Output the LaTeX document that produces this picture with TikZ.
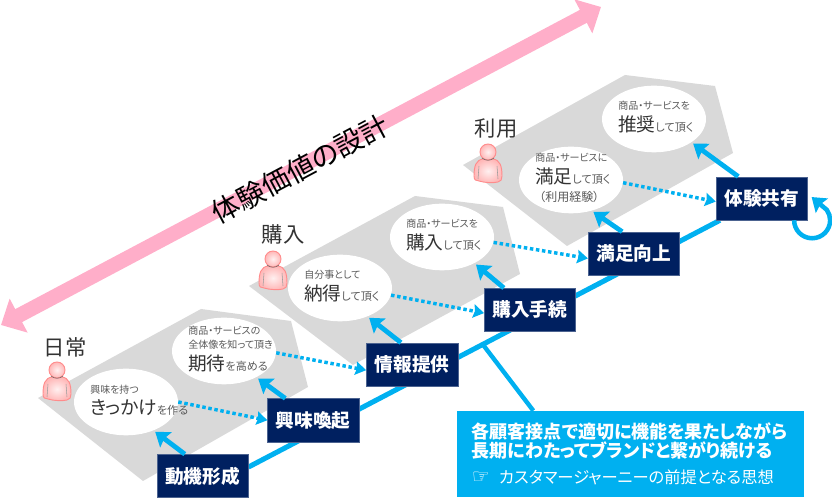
\documentclass[tikz,border=0pt]{standalone}
\usepackage{fontspec}
\usepackage{xcolor}
\setmainfont[RawFeature={+palt}]{Noto Sans CJK JP}
\newfontfamily\symbolfont{DejaVu Sans}
\usetikzlibrary{arrows.meta, positioning, shapes.geometric, backgrounds}
\definecolor{stagenavy}{RGB}{0, 32, 96}
\definecolor{flowblue}{RGB}{0, 176, 240}
\definecolor{zonegray}{RGB}{217, 217, 217}
\definecolor{designpink}{RGB}{255, 174, 201}
\definecolor{inktext}{RGB}{51, 51, 51}
\newcommand{\bigword}[1]{{\fontsize{14}{14}\selectfont\color{inktext}#1}}
\newcommand{\midword}[1]{{\fontsize{8.3}{13}\selectfont #1}}

\begin{document}
\begin{tikzpicture}[
  x=0.75pt, y=0.75pt,
  stagebox/.style={fill=stagenavy, draw=stagenavy!70!white, line width=0.4pt, minimum width=68.5pt,
              minimum height=32.4pt, inner sep=0pt, align=center, text=white,
              font=\fontsize{14}{16}\selectfont\bfseries},
  touch/.style={ellipse, fill=white, minimum width=78pt, minimum height=50pt, inner sep=0pt},
  touchtext/.style={anchor=west, xshift=-27pt, yshift=1.5pt, inner sep=0pt, align=left, text=black!65,
              font=\fontsize{7.5}{10.5}\selectfont},
  phase/.style={text=inktext, font=\fontsize{16}{18}\selectfont},
  zone/.style={fill=zonegray},
  arr/.style={-{Stealth[length=10pt, width=14pt, inset=1.5pt]}, line width=3.6pt, color=flowblue, shorten >=1.5pt},
  dotarr/.style={-{Stealth[length=8pt, width=10pt, inset=1pt]}, line width=2.6pt, color=flowblue,
              dash pattern=on 2.6pt off 2pt},
  person/.pic={
    \path[draw=red!45, line width=0.7pt, inner color=red!6, outer color=red!28]
      (-5,-7) .. controls (-12,-8) and (-14,-14) .. (-14,-24)
      .. controls (-14,-28) and (-12,-29) .. (-9,-29)
      .. controls (-3,-31) and (6,-31) .. (10,-30)
      .. controls (13,-30) and (14,-27) .. (14,-24)
      .. controls (14,-14) and (12,-8) .. (5,-7) -- cycle;
    \draw[black!40, line width=0.4pt] (-9,-14) -- (-10,-27) (9,-14) -- (10,-27);
    \path[draw=red!45, line width=0.7pt, inner color=red!6, outer color=red!28] (0,0) circle[radius=8];
    \draw[black!60, line width=0.4pt] (-6,-6) .. controls (-3,-9) and (3,-9) .. (6,-6);
  }
]
\useasboundingbox (0,0) rectangle (832,502);

% stages, climbing to the right
\node[stagebox] (dongki) at (202.5,26) {動機形成};
\node[stagebox, above right=9pt and 14.2pt of dongki] (kouki) {興味喚起};
\node[stagebox, above right=9pt and 5.2pt of kouki] (joho) {情報提供};
\node[stagebox, above right=8.2pt and 19.5pt of joho] (tetsuzuki) {購入手続};
\node[stagebox, above right=9.4pt and 9pt of tetsuzuki] (manzoku) {満足向上};
\node[stagebox, above right=8.6pt and 27pt of manzoku] (taiken) {体験共有};

% touch points
\node[touch] (ellA) at (126,100) {};
\node[touch] (ellB) at (224,151) {};
\node[touch] (ellC) at (340,214) {};
\node[touch] (ellD) at (442,265) {};
\node[touch] (ellE) at (571,322) {};
\node[touch] (ellF) at (654,383) {};

\node[touchtext] (txtA) at (ellA) {興味を持つ\\[3pt]\bigword{きっかけ}\midword{を作る}};
\node[touchtext] (txtB) at (ellB) {商品・サービスの\\全体像を知って頂き\\[3pt]\bigword{期待}\midword{を高める}};
\node[touchtext] (txtC) at (ellC) {自分事として\\[3pt]\bigword{納得}\midword{して頂く}};
\node[touchtext] (txtD) at (ellD) {商品・サービスを\\[3pt]\bigword{購入}\midword{して頂く}};
\node[touchtext] (txtE) at (ellE) {商品・サービスに\\[3pt]\bigword{満足}\midword{して頂く}\\[3pt]\hspace*{3pt}{\fontsize{9}{13}\selectfont（利用経験）}};
\node[touchtext] (txtF) at (ellF) {商品・サービスを\\[3pt]\bigword{推奨}\midword{して頂く}};

% phases
\node[phase] (nichijo) at (65,155) {日常};
\node[phase] (kounyu) at (283,268) {購入};
\node[phase] (riyo) at (496,373) {利用};
\pic at (57,132) {person};
\pic at (273,243) {person};
\pic at (488,350) {person};

% design arrow
\coordinate (designL) at (1,177);
\coordinate (designR) at (601,495);
\draw[{Triangle[length=15pt, width=28pt]}-{Triangle[length=15pt, width=28pt]}, line width=11pt, color=designpink] (designL) -- (designR);
\node[rotate=28, font=\fontsize{21}{23}\selectfont] (design) at (300,333) {体験価値の設計};

% note
\node[fill=flowblue, text=white, minimum width=260pt, minimum height=64.5pt, text width=238pt,
      inner xsep=11pt, inner ysep=0pt, align=left] (note) at (630.5,48)
  {{\fontsize{13.5}{15}\selectfont\bfseries 各顧客接点で適切に機能を果たしながら\\長期にわたってブランドと繋がり続ける}\\[8pt]
   {\fontsize{12.2}{13}\selectfont{\symbolfont\fontsize{15}{13}\selectfont ☞}\hspace{7pt}カスタマージャーニーの前提となる思想}};

\begin{scope}[on background layer]
\fill[zone] (38,104) -- (201,193) -- (291,181) -- (308,115) -- (143,21) -- cycle;
\fill[zone] (249,216) -- (415,306) -- (503,295) -- (520,228) -- (353,137) -- cycle;
\fill[zone] (463,337) -- (625,427) -- (715,416) -- (733,349) -- (567,256) -- cycle;
\draw[line width=3.8pt, color=flowblue] (dongki.11) -- coordinate[pos=0.497] (branch) (taiken);
\draw[line width=3.3pt, color=flowblue] (branch) -- (note.156);
\end{scope}

\draw[arr] (dongki.129) -- (ellA.-46);
\draw[arr] (kouki.142) -- (ellB.-39);
\draw[arr] (joho.117) -- (ellC.-46);
\draw[arr] (tetsuzuki.140) -- (ellD.-39);
\draw[arr] (manzoku.118) -- (ellE.-56);
\draw[arr] (taiken.137) -- (ellF.-32);

\draw[dotarr] (ellA.east) -- (kouki.west);
\draw[dotarr] (ellB.-2) -- (joho.187);
\draw[dotarr] (ellC.-8) -- (tetsuzuki.184);
\draw[dotarr] (ellD.-6) -- (manzoku.186);
\draw[dotarr] (ellE.-3) -- (taiken.184);

\draw[arr, line width=3.4pt, shorten >=0pt] (taiken.-34) arc[start angle=180, end angle=395, radius=13.5pt] -- ([xshift=3pt,yshift=1pt]taiken.east);
\end{tikzpicture}
\end{document}
